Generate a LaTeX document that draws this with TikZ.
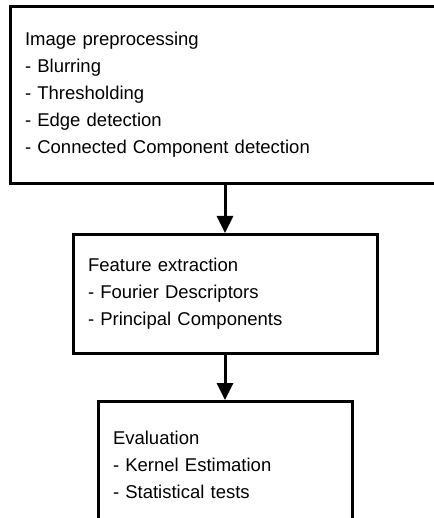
\documentclass[tikz,border=0pt]{standalone}
\usepackage{fontspec}
\setmainfont{Liberation Sans}
\usetikzlibrary{positioning, arrows.meta}

\begin{document}
\begin{tikzpicture}[x=1pt, y=-1pt, node distance=48pt,
  box/.style={draw, line width=3pt, align=left, inner xsep=15pt,
    font=\fontsize{18.5}{27}\selectfont},
  flow/.style={line width=3pt, -{Triangle[width=16pt, length=17pt]}}]
  \useasboundingbox (0,0) rectangle (433,518);

  \node[box, anchor=north, text width=400pt, minimum height=177pt] (prep) at (225,5)
    {Image preprocessing\\- Blurring\\- Thresholding\\- Edge detection\\- Connected Component detection};
  \node[box, below=of prep, text width=274pt, minimum height=119pt] (feat)
    {Feature extraction\\- Fourier Descriptors\\- Principal Components};
  \node[box, below=45pt of feat, text width=224pt, minimum height=126pt] (eval)
    {Evaluation\\- Kernel Estimation\\- Statistical tests};

  \draw[flow] (prep) -- (feat);
  \draw[flow] (feat) -- (eval);
\end{tikzpicture}
\end{document}
